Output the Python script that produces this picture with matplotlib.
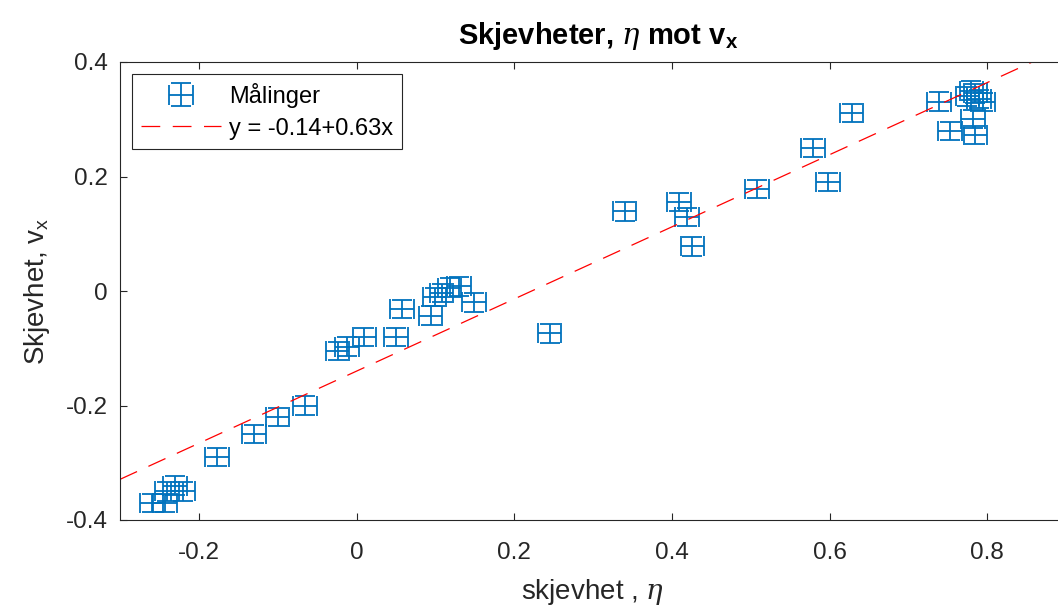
import matplotlib
matplotlib.use("Agg")
import matplotlib.pyplot as plt
import numpy as np

plt.rcParams['font.family'] = ['Liberation Sans', 'DejaVu Sans']
plt.rcParams['mathtext.fontset'] = 'custom'
plt.rcParams['mathtext.rm'] = 'Liberation Sans'
plt.rcParams['mathtext.bf'] = 'Liberation Sans:bold'
plt.rcParams['mathtext.it'] = 'DejaVu Serif:italic'
plt.rcParams['lines.scale_dashes'] = False

# Measurements (eta, v_x)
eta = [-0.26, -0.243, -0.24, -0.23, -0.22,
       -0.177, -0.13, -0.10, -0.065,
       -0.024, -0.012, 0.01, 0.05, 0.058,
       0.094, 0.099, 0.108, 0.118, 0.13, 0.149,
       0.245, 0.34, 0.409, 0.419, 0.426,
       0.508, 0.579, 0.598, 0.628,
       0.739, 0.753, 0.775, 0.78, 0.785, 0.79, 0.795, 0.782, 0.785]
vx = [-0.37, -0.37, -0.35, -0.34, -0.35,
      -0.29, -0.25, -0.22, -0.20,
      -0.105, -0.097, -0.08, -0.08, -0.032,
      -0.043, -0.01, -0.003, 0.006, 0.008, -0.02,
      -0.074, 0.139, 0.156, 0.129, 0.078,
      0.178, 0.25, 0.19, 0.311,
      0.331, 0.28, 0.34, 0.35, 0.345, 0.335, 0.33, 0.30, 0.272]
eta_err = 0.015
vx_err = 0.016

# Fit line
fit_a = -0.14
fit_b = 0.63
fit_x = [-0.3, 0.9]

xticks = [-0.2, 0, 0.2, 0.4, 0.6, 0.8]
xticklabels = ['-0.2', '0', '0.2', '0.4', '0.6', '0.8']
yticks = [-0.4, -0.2, 0, 0.2, 0.4]
yticklabels = ['-0.4', '-0.2', '0', '0.2', '0.4']

blue = '#0072BD'
dark = '#262626'

fig = plt.figure(figsize=(10.58, 6.07), dpi=100)
ax = fig.add_axes([120/1058, 87/607, (1066-120)/1058, (520-62)/607])

eb = ax.errorbar(eta, vx, xerr=eta_err, yerr=vx_err, fmt='none', ecolor=blue,
                 elinewidth=1.3, capsize=7.5, capthick=1.3, label='Målinger')
fx = np.array(fit_x)
ln, = ax.plot(fx, fit_a + fit_b * fx, color='#FF0000', lw=0.9, dashes=(13.5, 9),
              label='y = -0.14+0.63x')

ax.set_xlim(-0.3, 0.9)
ax.set_ylim(-0.4, 0.4)
ax.set_xticks(xticks)
ax.set_xticklabels(xticklabels)
ax.set_yticks(yticks)
ax.set_yticklabels(yticklabels)
ax.tick_params(direction='in', length=5, width=0.8, colors=dark, labelsize=17.5,
               top=True, right=True)
ax.tick_params(axis='x', pad=16)
ax.tick_params(axis='y', pad=9)
for s in ax.spines.values():
    s.set_color(dark)
    s.set_linewidth(0.8)

ax.set_xlabel(r'skjevhet , $\eta$', fontsize=20, color=dark, labelpad=9)
ax.set_ylabel(r'Skjevhet, v$_\mathrm{x}$', fontsize=20, color=dark, labelpad=10)
ax.set_title(r'Skjevheter, $\eta$ mot v$_\mathbf{x}$', fontsize=21, fontweight='bold',
             color='black', x=(598-120)/(1066-120), pad=13)

leg = ax.legend([eb, ln], ['Målinger', 'y = -0.14+0.63x'], loc='upper left',
                fontsize=17, frameon=True, fancybox=False,
                edgecolor=dark, framealpha=1, handlelength=3.4,
                handletextpad=0.35, labelspacing=0.42, borderpad=0.38,
                borderaxespad=0.5, bbox_to_anchor=(0, 1))
leg.get_frame().set_linewidth(0.8)

fig.savefig('out.png', dpi=100)
